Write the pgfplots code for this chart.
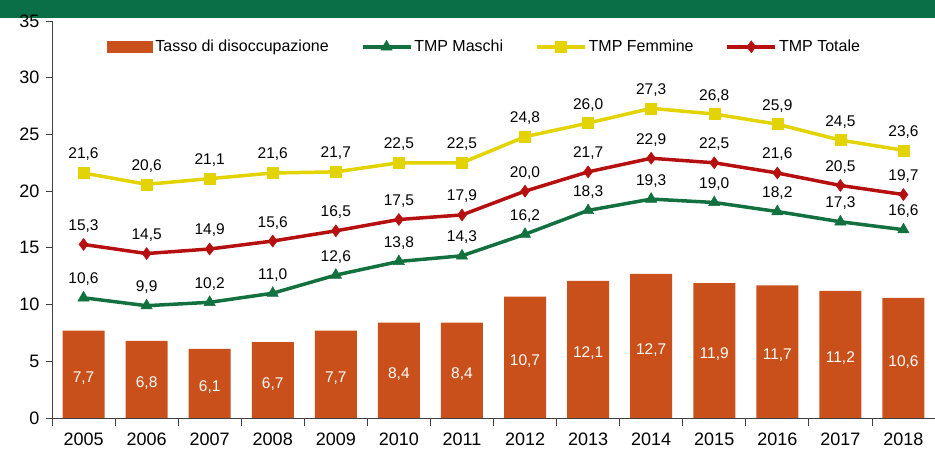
\documentclass[border=0pt]{standalone}
\usepackage{fontspec}
\setmainfont{Liberation Sans}
\usepackage{pgfplots}
\pgfplotsset{compat=1.18}
\definecolor{cbar}{HTML}{C9501A}
\definecolor{cgreen}{HTML}{13703F}
\definecolor{cyellow}{HTML}{E3D300}
\definecolor{cred}{HTML}{B5100F}
\definecolor{cbanner}{HTML}{0A6E46}
\pgfplotsset{
  linelegend/.style={legend image code/.code={\draw[mark repeat=2,mark phase=2,##1] plot coordinates {(0pt,0pt) (24pt,0pt) (48pt,0pt)};}},
  linelabels/.style={nodes near coords,
    every node near coord/.append style={anchor=base, yshift=14pt, inner sep=0pt, text=black,
    font=\fontsize{15.5}{18}\selectfont}},
}
\begin{document}
\begin{tikzpicture}
\useasboundingbox (-52pt,-32pt) rectangle (883pt,418pt);
\fill[cbanner] (-52pt,400pt) rectangle (883pt,418pt);
\begin{axis}[
  at={(0pt,0pt)}, anchor=south west,
  scale only axis, width=883pt, height=397pt,
  xmin=-0.5, xmax=13.5, ymin=0, ymax=35,
  axis x line*=bottom, axis y line*=left,
  axis line style={-, draw=black!75, line width=0.8pt},
  xtick={0,...,13},
  xticklabels={2005,2006,2007,2008,2009,2010,2011,2012,2013,2014,2015,2016,2017,2018},
  minor xtick={-0.5,0.5,...,13.5},
  ytick={0,5,...,35},
  tick align=outside,
  major x tick style={draw=none},
  major tick length=6pt, minor tick length=8pt,
  tick style={draw=black!75, line width=0.8pt},
  tick label style={font=\fontsize{18}{21}\selectfont},
  xticklabel style={yshift=-5pt},
  yticklabel style={xshift=-3pt, /pgf/number format/.cd, fixed, precision=0, fixed zerofill=false},
  /pgf/number format/assume math mode=true,
  /pgf/number format/.cd, fixed, fixed zerofill, precision=1, use comma, /pgfplots/.cd,
  legend columns=4,
  legend style={draw=none, fill=none, at={(0.49,0.935)}, anchor=center,
    font=\fontsize{16}{19}\selectfont, inner sep=0pt,
    /tikz/every even column/.append style={column sep=30pt}},
  clip=false,
]
\addplot[ybar, bar width=42pt, fill=cbar, draw=none,
  nodes near coords,
  visualization depends on=y \as \rawy,
  every node near coord/.append style={anchor=center, text=white, yshift=-4pt,
    font=\fontsize{15.5}{18}\selectfont, shift={(axis direction cs:0,-\rawy/2)}},
  legend image code/.code={\fill[cbar] (0pt,-6pt) rectangle (46pt,6pt);}]
coordinates {(0,7.7)(1,6.8)(2,6.1)(3,6.7)(4,7.7)(5,8.4)(6,8.4)(7,10.7)(8,12.1)(9,12.7)(10,11.9)(11,11.7)(12,11.2)(13,10.6)};
\addlegendentry{Tasso di disoccupazione}

\addplot[cgreen, line width=3.5pt, mark=triangle*, mark size=6.5pt, mark options={line width=0.5pt},
  linelabels, linelegend]
coordinates {(0,10.6)(1,9.9)(2,10.2)(3,11.0)(4,12.6)(5,13.8)(6,14.3)(7,16.2)(8,18.3)(9,19.3)(10,19.0)(11,18.2)(12,17.3)(13,16.6)};
\addlegendentry{TMP Maschi}

\addplot[cyellow, line width=3.5pt, mark=square*, mark size=5.5pt, mark options={line width=0.5pt},
  linelabels, linelegend]
coordinates {(0,21.6)(1,20.6)(2,21.1)(3,21.6)(4,21.7)(5,22.5)(6,22.5)(7,24.8)(8,26.0)(9,27.3)(10,26.8)(11,25.9)(12,24.5)(13,23.6)};
\addlegendentry{TMP Femmine}

\addplot[cred, line width=3.5pt, mark=diamond*, mark size=6pt, mark options={line width=0.5pt},
  linelabels, linelegend]
coordinates {(0,15.3)(1,14.5)(2,14.9)(3,15.6)(4,16.5)(5,17.5)(6,17.9)(7,20.0)(8,21.7)(9,22.9)(10,22.5)(11,21.6)(12,20.5)(13,19.7)};
\addlegendentry{TMP Totale}
\end{axis}
\end{tikzpicture}
\end{document}
